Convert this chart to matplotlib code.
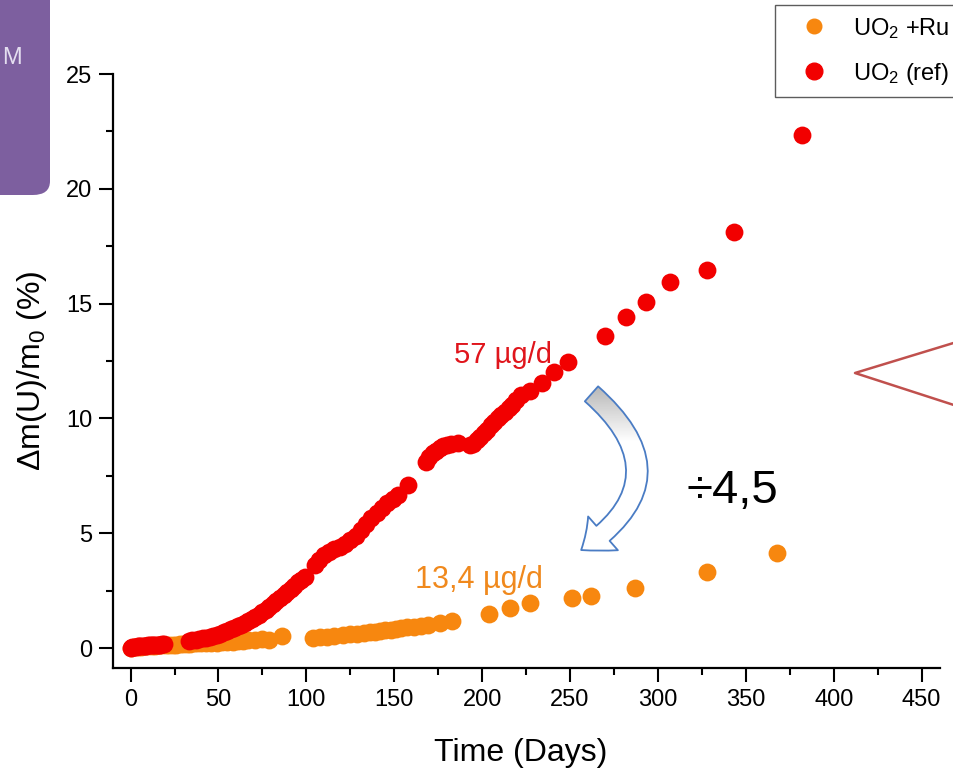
import matplotlib
matplotlib.use("Agg")
import matplotlib.pyplot as plt
import numpy as np
from matplotlib.patches import FancyArrowPatch, FancyBboxPatch
from matplotlib.colors import LinearSegmentedColormap
from matplotlib.lines import Line2D

plt.rcParams["font.family"] = ["Liberation Sans", "DejaVu Sans"]
plt.rcParams["mathtext.fontset"] = "custom"
plt.rcParams["mathtext.rm"] = "Liberation Sans"
plt.rcParams["mathtext.it"] = "Liberation Sans"

# UO2 (ref) - red
red_days = [0, 1, 2, 3, 4, 5, 6, 7, 8, 9, 10, 11, 12, 13, 14, 15, 16, 17, 18, 19,
            33, 35, 37, 39, 41, 43, 45, 47, 49, 51, 53, 55, 57, 59, 61, 63, 65,
            67, 69, 71, 73, 75, 77, 79, 81, 83, 85, 87, 89, 91, 93, 95, 97, 99,
            105, 107, 110, 113, 116, 119, 122, 125, 128, 131, 134, 137, 140,
            143, 146, 149, 152, 158, 168, 170, 172, 174, 176, 178, 180, 182,
            186, 193, 195, 197, 199, 201, 203, 205, 207, 209, 211, 213, 215,
            217, 219, 222, 227, 234, 241, 249, 270, 282, 293, 307, 328, 343, 382]
red_vals = [0.02, 0.04, 0.05, 0.06, 0.07, 0.08, 0.08, 0.09, 0.10, 0.10, 0.11,
            0.12, 0.12, 0.13, 0.13, 0.14, 0.15, 0.15, 0.16, 0.17,
            0.30, 0.33, 0.36, 0.39, 0.42, 0.45, 0.49, 0.53, 0.58, 0.63, 0.69,
            0.75, 0.81, 0.88, 0.95, 1.02, 1.10, 1.18, 1.27, 1.36, 1.45, 1.55,
            1.66, 1.78, 1.90, 2.03, 2.16, 2.30, 2.44, 2.58, 2.72, 2.86, 2.98,
            3.08, 3.60, 3.85, 4.05, 4.20, 4.30, 4.40, 4.55, 4.70, 4.90, 5.15,
            5.40, 5.65, 5.90, 6.10, 6.30, 6.50, 6.65, 7.10, 8.10, 8.30, 8.50,
            8.60, 8.70, 8.80, 8.85, 8.90, 8.95, 8.85, 8.90, 9.05, 9.20, 9.35,
            9.50, 9.70, 9.85, 10.0, 10.15, 10.3, 10.45, 10.6, 10.8, 11.0, 11.2,
            11.55, 12.0, 12.45, 13.6, 14.4, 15.05, 15.95, 16.45, 18.1, 22.35]

# UO2 +R... - orange
orange_days = [0, 2, 4, 6, 8, 10, 12, 14, 16, 18, 20, 22, 24, 26, 28, 30, 32,
               34, 36, 38, 40, 43, 46, 49, 52, 55, 58, 61, 64, 67, 71, 75, 79,
               86, 104, 108, 112, 116, 121, 125, 129, 133, 136, 139, 142, 145,
               148, 151, 154, 157, 161, 165, 169, 176, 183, 204, 216, 227, 251,
               262, 287, 328, 368]
orange_vals = [0.02, 0.04, 0.05, 0.06, 0.07, 0.08, 0.09, 0.10, 0.11, 0.12,
               0.13, 0.14, 0.15, 0.15, 0.16, 0.17, 0.18, 0.19, 0.20, 0.20, 0.21,
               0.22, 0.23, 0.24, 0.25, 0.26, 0.28, 0.29, 0.31, 0.33, 0.35, 0.38,
               0.37, 0.52, 0.45, 0.47, 0.50, 0.53, 0.56, 0.60, 0.62, 0.66, 0.68,
               0.71, 0.74, 0.77, 0.80, 0.83, 0.86, 0.90, 0.93, 0.98, 1.02, 1.08,
               1.17, 1.48, 1.74, 1.97, 2.17, 2.26, 2.60, 3.30, 4.13]

labels = ["UO$_2$ +Ru", "UO$_2$ (ref)"]
rate_labels = ["57 µg/d", "13,4 µg/d"]
ratio_label = "÷4,5"

RED = "#f20000"
ORANGE = "#f7870f"

W, H = 954, 769
X_RIGHT_PX = 940      # right end of the bottom axis line, in pixels
X_RIGHT = (X_RIGHT_PX - 131) / 1.757
fig = plt.figure(figsize=(W / 100, H / 100), dpi=100)
ax = fig.add_axes([113 / W, (H - 668) / H, (X_RIGHT_PX - 113) / W,
                   (668 - 74) / H])

ax.scatter(orange_days, orange_vals, s=165, color=ORANGE, lw=0, zorder=3)
ax.scatter(red_days, red_vals, s=165, color=RED, lw=0, zorder=4)

ax.set_xticks(range(0, 451, 50))
ax.set_xticks(range(25, 451, 50), minor=True)
ax.set_yticks(range(0, 26, 5))
ax.set_yticks([2.5, 7.5, 12.5, 17.5, 22.5], minor=True)
ax.spines["top"].set_visible(False)
ax.spines["right"].set_visible(False)
for s in ["left", "bottom"]:
    ax.spines[s].set_linewidth(1.6)
ax.tick_params(which="major", direction="out", length=10, width=1.5,
               labelsize=17, pad=5)
ax.tick_params(which="minor", direction="out", length=5, width=1.5)
ax.set_xlabel("Time (Days)", fontsize=23)
ax.xaxis.set_label_coords((521 - 113) / (X_RIGHT_PX - 113), -0.118)
ax.set_ylabel("Δm(U)/m$_0$ (%)", fontsize=23, labelpad=12)

# annotations
ax.text(240, 12.43, rate_labels[0], color="#e0151c", fontsize=21,
        ha="right", va="baseline")
ax.text(234.5, 2.6, rate_labels[1], color="#f0891d", fontsize=22,
        ha="right", va="baseline")
ax.text(342.6, 6.3, ratio_label, color="black", fontsize=34,
        ha="center", va="baseline")

# curved arrow, grey at its upper end
arrow_kw = dict(connectionstyle="arc3,rad=-0.66",
                arrowstyle="simple,head_width=1.8,head_length=1.1,tail_width=0.8",
                mutation_scale=18)
arrow = FancyArrowPatch((261, 11.15), (255, 4.2), facecolor="white",
                        edgecolor="none", zorder=5, **arrow_kw)
ax.add_patch(arrow)
grey = LinearSegmentedColormap.from_list("g", ["white", "white", "white",
                                               "#b4b4b4"])
grad = ax.imshow(np.linspace(0, 1, 100).reshape(-1, 1), cmap=grey,
                 extent=(250, 300, 4, 11.5), origin="lower", aspect="auto",
                 zorder=5.1)
grad.set_clip_path(arrow)
ax.add_patch(FancyArrowPatch((261, 11.15), (255, 4.2), facecolor="none",
                             edgecolor="#4a7cc4", lw=1.3, zorder=5.2,
                             **arrow_kw))

ax.set_xlim(-10, X_RIGHT)
ax.set_ylim(-0.87, 25)

# red callout lines on the right
fig.add_artist(Line2D([960 / W, 855 / W, 960 / W],
                      [1 - 341 / H, 1 - 373 / H, 1 - 407 / H],
                      color="#c0504d", lw=1.8))

# purple slide element at top-left
fig.add_artist(FancyBboxPatch((-40 / W, 1 - 195 / H), 90 / W, 260 / H,
                              boxstyle="round,pad=0,rounding_size=0.018",
                              facecolor="#7d5f9f", edgecolor="none",
                              transform=fig.transFigure))
fig.text(2 / W, 1 - 58 / H, "M", color="#e4def0", fontsize=17,
         ha="left", va="center")

handles = [Line2D([], [], marker="o", ls="", color=ORANGE, markersize=10.5),
           Line2D([], [], marker="o", ls="", color=RED, markersize=12)]
leg = fig.legend(handles, labels, loc="upper left",
                 bbox_to_anchor=(775 / W, 1 - 5 / H), borderaxespad=0,
                 fontsize=17, frameon=True, fancybox=False,
                 handlelength=2.4, handletextpad=0.45, borderpad=0.45,
                 labelspacing=0.85)
leg.get_frame().set_edgecolor("#333333")
leg.get_frame().set_linewidth(1.0)

fig.savefig("out.png", dpi=100)
